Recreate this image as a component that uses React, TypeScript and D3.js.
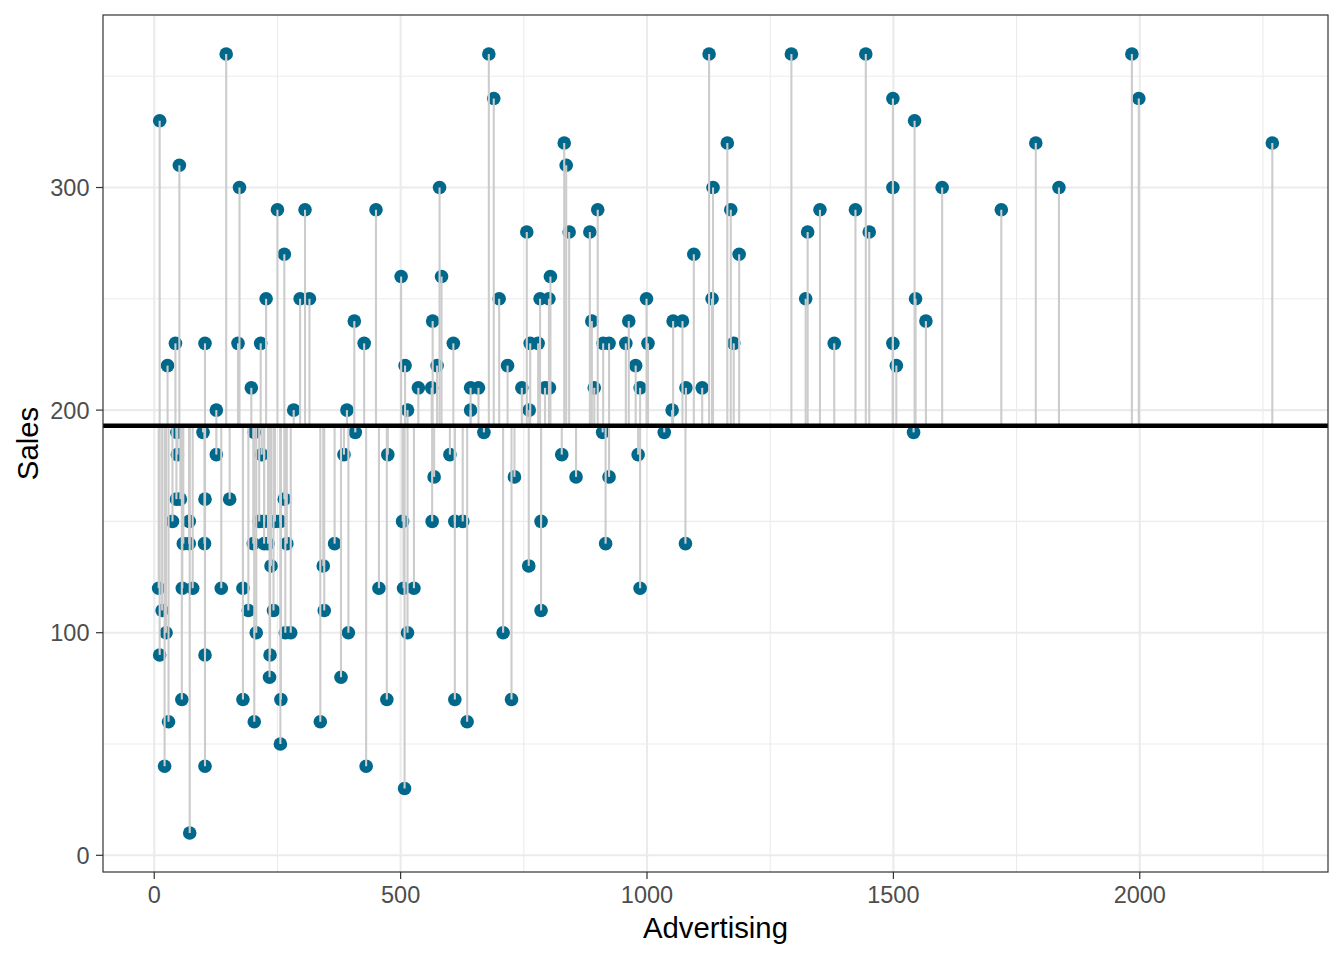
import React from "react";
import * as d3 from "d3";

// Advertising (x) and Sales (y)
const advertising: number[] = [
  11, 51, 146, 173, 250, 264, 227, 296, 43, 103, 170, 216, 27, 197, 126, 283, 306, 46, 99, 203,
  47, 126, 218, 45, 53, 103, 153, 264, 37, 71, 213, 223, 245, 256, 59, 71, 102, 201, 223, 231,
  269, 237, 9, 57, 78, 136, 180, 16, 191, 242, 24, 207, 266, 277, 11, 103, 235, 234, 56, 180,
  257, 29, 203, 256, 21, 103, 72,
  315, 450, 579, 501, 583, 406, 426, 509, 565, 574, 607, 536, 563, 391, 514, 408, 385, 474, 600,
  568, 504, 564, 610, 366, 343, 456, 506, 527, 345, 394, 514, 379, 472, 610, 337, 430, 508,
  679, 689, 832, 836, 900, 756, 842, 884, 804, 700, 783, 801, 888, 763, 779, 911, 923, 717, 642,
  658, 746, 793, 802, 893, 642, 761, 669, 910, 827, 731, 856, 923, 626, 785, 916, 760, 785, 708,
  725, 635,
  1126, 1163, 1134, 1170, 1095, 1187, 999, 1132, 963, 1053, 1072, 957, 1002, 1176, 977, 986, 1079,
  1112, 1051, 1035, 982, 1078, 986,
  1293, 1444, 1499, 1543, 1499, 1599, 1351, 1423, 1326, 1451, 1322, 1545, 1566, 1380, 1499, 1506,
  1541, 1719, 1789, 1836, 1984, 1998, 2269,
];

const sales: number[] = [
  330, 310, 360, 300, 290, 270, 250, 250, 230, 230, 230, 230, 220, 210, 200, 200, 290, 190, 190, 190,
  180, 180, 180, 160, 160, 160, 160, 160, 150, 150, 150, 150, 150, 150, 140, 140, 140, 140, 140, 140,
  140, 130, 120, 120, 120, 120, 120, 110, 110, 110, 100, 100, 100, 100, 90, 90, 90, 80, 70, 70,
  70, 60, 60, 50, 40, 40, 10,
  250, 290, 300, 260, 260, 240, 230, 220, 240, 220, 230, 210, 210, 200, 200, 190, 180, 180, 180,
  170, 150, 150, 150, 140, 130, 120, 120, 120, 110, 100, 100, 80, 70, 70, 60, 40, 30,
  360, 340, 320, 310, 290, 280, 280, 280, 260, 250, 250, 250, 240, 230, 230, 230, 230, 220, 210,
  210, 210, 210, 210, 210, 200, 200, 190, 190, 180, 170, 170, 170, 150, 150, 140, 130, 110, 100,
  70, 60,
  360, 320, 300, 290, 270, 270, 250, 250, 240, 240, 240, 230, 230, 230, 220, 210, 210,
  210, 200, 190, 180, 140, 120,
  360, 360, 340, 330, 300, 300, 290, 290, 280, 280, 250, 250, 240, 230, 230, 220,
  190, 290, 320, 300, 360, 340, 320,
];

const meanSales = 193; // horizontal reference line (mean of Sales)

const xMajor = [0, 500, 1000, 1500, 2000];
const xMinor = [250, 750, 1250, 1750, 2250];
const yMajor = [0, 100, 200, 300];
const yMinor = [50, 150, 250, 350];

const xTitle = "Advertising";
const yTitle = "Sales";

const W = 1344;
const H = 960;
const L = 103;
const R = 1328;
const T = 15;
const B = 872;
const FONT = "'Liberation Sans', Arial, Helvetica, sans-serif";

function expand(ext: [number, number]): [number, number] {
  const r = ext[1] - ext[0];
  return [ext[0] - 0.05 * r, ext[1] + 0.05 * r];
}

export default function App() {
  const data = advertising.map((a, i) => ({ a, s: sales[i] }));
  const x = d3
    .scaleLinear()
    .domain(expand(d3.extent(advertising) as [number, number]))
    .range([L, R]);
  const y = d3
    .scaleLinear()
    .domain(expand(d3.extent(sales) as [number, number]))
    .range([B, T]);

  return (
    <svg
      width={W}
      height={H}
      style={{ position: "absolute", left: 0, top: 0, background: "#fff" }}
      fontFamily={FONT}
    >
      <rect x={0} y={0} width={W} height={H} fill="#fff" />
      <g>
        {xMinor.map((v) => (
          <line key={"xm" + v} x1={x(v)} x2={x(v)} y1={T} y2={B} stroke="#EBEBEB" strokeWidth={1.1} />
        ))}
        {yMinor.map((v) => (
          <line key={"ym" + v} x1={L} x2={R} y1={y(v)} y2={y(v)} stroke="#EBEBEB" strokeWidth={1.1} />
        ))}
        {xMajor.map((v) => (
          <line key={"xM" + v} x1={x(v)} x2={x(v)} y1={T} y2={B} stroke="#EBEBEB" strokeWidth={2.1} />
        ))}
        {yMajor.map((v) => (
          <line key={"yM" + v} x1={L} x2={R} y1={y(v)} y2={y(v)} stroke="#EBEBEB" strokeWidth={2.1} />
        ))}
      </g>
      <g>
        {data.map((d, i) => (
          <circle key={"p" + i} cx={x(d.a)} cy={y(d.s)} r={6.8} fill="#00688B" />
        ))}
      </g>
      <g>
        {data.map((d, i) => (
          <line
            key={"s" + i}
            x1={x(d.a)}
            x2={x(d.a)}
            y1={y(meanSales)}
            y2={y(d.s)}
            stroke="#CCCCCC"
            strokeWidth={2.1}
          />
        ))}
      </g>
      <line x1={L} x2={R} y1={y(meanSales)} y2={y(meanSales)} stroke="#000" strokeWidth={4.5} />
      <rect x={L} y={T} width={R - L} height={B - T} fill="none" stroke="#333333" strokeWidth={1.2} />
      <g>
        {xMajor.map((v) => (
          <g key={"xt" + v}>
            <line x1={x(v)} x2={x(v)} y1={B} y2={B + 7} stroke="#333333" strokeWidth={1.2} />
            <text x={x(v)} y={903} textAnchor="middle" fontSize={23.5} fill="#4D4D4D">
              {v}
            </text>
          </g>
        ))}
        {yMajor.map((v) => (
          <g key={"yt" + v}>
            <line x1={L - 7} x2={L} y1={y(v)} y2={y(v)} stroke="#333333" strokeWidth={1.2} />
            <text x={89.5} y={y(v) + 8.4} textAnchor="end" fontSize={23.5} fill="#4D4D4D">
              {v}
            </text>
          </g>
        ))}
      </g>
      <text x={(L + R) / 2} y={938} textAnchor="middle" fontSize={29.3} fill="#000">
        {xTitle}
      </text>
      <text
        transform={`translate(37.5, ${(T + B) / 2}) rotate(-90)`}
        textAnchor="middle"
        fontSize={29.3}
        fill="#000"
      >
        {yTitle}
      </text>
    </svg>
  );
}
